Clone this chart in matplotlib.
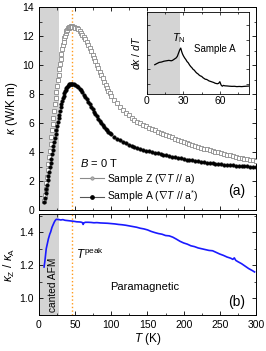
import matplotlib
matplotlib.use("Agg")
import matplotlib.pyplot as plt
from matplotlib.lines import Line2D
from matplotlib.ticker import MultipleLocator, NullFormatter, FormatStrFormatter

plt.rcParams['font.family'] = ['Liberation Sans', 'DejaVu Sans']
plt.rcParams['mathtext.fontset'] = 'custom'
plt.rcParams['mathtext.rm'] = 'Liberation Sans'
plt.rcParams['mathtext.it'] = 'Liberation Sans:italic'

# temperatures (K) of the kappa curves
temp = [7, 8, 9, 10, 11, 12, 13, 14, 15, 16, 17, 18, 19, 20, 21, 22, 23, 24, 25, 26,
        27, 28, 29, 30, 31, 32, 33, 34, 35, 36, 37, 38, 39, 40, 41, 42, 43, 44, 45, 46,
        48, 50, 52, 54, 56, 58, 60, 62, 64, 66, 68, 70, 72, 74, 76, 78, 80, 82, 84, 86,
        88, 90, 92, 94, 96, 98, 100,
        104, 108, 112, 116, 120, 124, 128, 132, 136, 140, 144, 148, 152, 156, 160, 164,
        168, 172, 176, 180, 184, 188, 192, 196, 200, 204, 208, 212, 216, 220, 224, 228,
        232, 236, 240, 244, 248, 252, 256, 260, 264, 268, 272, 276, 280, 284, 288, 292,
        296, 300]

# Sample Z, grad T // a
kappa_z = [0.65, 1.05, 1.46, 1.89, 2.31, 2.75, 3.20, 3.64, 4.10, 4.55, 5.02, 5.51, 5.93,
           6.38, 6.83, 7.28, 7.70, 8.11, 8.54, 8.94, 9.34, 9.71, 10.08, 10.43, 10.77,
           11.08, 11.35, 11.61, 11.84, 12.02, 12.18, 12.33, 12.44, 12.52, 12.58, 12.62,
           12.65, 12.66, 12.66, 12.65,
           12.62, 12.58, 12.53, 12.46, 12.36, 12.24, 12.10, 11.94, 11.77, 11.58, 11.38,
           11.17, 10.95, 10.72, 10.49, 10.25, 10.01, 9.77, 9.53, 9.30, 9.07, 8.85, 8.64,
           8.43, 8.23, 8.04, 7.86,
           7.62, 7.36, 7.12, 6.90, 6.70, 6.52, 6.36, 6.22, 6.09, 5.97, 5.86, 5.76, 5.67,
           5.58, 5.49, 5.41, 5.33, 5.25, 5.17, 5.09, 5.01, 4.93, 4.85, 4.77, 4.69, 4.62,
           4.55, 4.48, 4.42, 4.36, 4.30, 4.24, 4.18, 4.12, 4.07, 4.02, 3.97, 3.92, 3.87,
           3.82, 3.77, 3.72, 3.67, 3.62, 3.58, 3.54, 3.50, 3.46, 3.42, 3.39]

# Sample A, grad T // a*
kappa_a = [0.55, 0.85, 1.15, 1.45, 1.75, 2.05, 2.35, 2.65, 2.95, 3.25, 3.55, 3.85, 4.12,
           4.40, 4.68, 4.95, 5.22, 5.50, 5.78, 6.05, 6.32, 6.58, 6.83, 7.07, 7.30, 7.51,
           7.70, 7.88, 8.04, 8.18, 8.31, 8.42, 8.51, 8.58, 8.63, 8.67, 8.70, 8.71, 8.71,
           8.70,
           8.67, 8.62, 8.55, 8.47, 8.37, 8.25, 8.11, 7.96, 7.80, 7.66, 7.48, 7.30, 7.13,
           6.96, 6.79, 6.63, 6.47, 6.31, 6.16, 6.01, 5.87, 5.74, 5.62, 5.51, 5.41, 5.31,
           5.22,
           5.06, 4.92, 4.80, 4.69, 4.59, 4.50, 4.42, 4.35, 4.28, 4.22, 4.16, 4.10, 4.05,
           4.00, 3.95, 3.90, 3.85, 3.80, 3.76, 3.72, 3.68, 3.64, 3.60, 3.56, 3.52, 3.48,
           3.45, 3.42, 3.39, 3.36, 3.33, 3.30, 3.27, 3.24, 3.21, 3.19, 3.17, 3.15, 3.13,
           3.11, 3.09, 3.07, 3.05, 3.04, 3.03, 3.02, 3.01, 3.00, 2.99, 2.98]

# ratio kappa_Z / kappa_A
ratio_t = [7, 8, 9, 10, 11, 12, 13, 14, 15, 16, 17, 18, 19, 20, 21, 22, 23, 24, 26, 28,
           30, 33, 36, 40, 44, 48, 52, 56, 58, 60, 61, 62, 64, 68, 72, 76, 80, 85, 90,
           95, 100, 105, 110, 115, 120, 125, 130, 135, 140, 145, 150, 155, 160, 165, 170,
           175, 180, 185, 190, 195, 200, 205, 210, 215, 220, 225, 230, 235, 240, 245, 250,
           255, 260, 265, 268, 270, 272, 275, 280, 285, 290, 295, 298]
ratio = [1.19, 1.22, 1.26, 1.30, 1.32, 1.34, 1.36, 1.375, 1.39, 1.40, 1.415, 1.43, 1.44,
         1.45, 1.46, 1.468, 1.474, 1.478, 1.477, 1.476, 1.474, 1.476, 1.472, 1.470,
         1.468, 1.466, 1.463, 1.462, 1.461, 1.458, 1.447, 1.456, 1.460, 1.460, 1.459,
         1.457, 1.458, 1.456, 1.455, 1.454, 1.452, 1.450, 1.447, 1.445, 1.442, 1.438,
         1.434, 1.430, 1.424, 1.420, 1.414, 1.405, 1.398, 1.392, 1.388, 1.380, 1.378,
         1.370, 1.358, 1.345, 1.335, 1.328, 1.318, 1.313, 1.305, 1.300, 1.295, 1.290,
         1.288, 1.278, 1.268, 1.260, 1.250, 1.243, 1.236, 1.245, 1.230, 1.222, 1.210,
         1.195, 1.180, 1.168, 1.160]

# inset: d kappa / dT of sample A (arb. units)
ins_t = [6.4, 8, 10, 12, 14, 16, 18, 20, 21, 22, 23, 24, 25, 26, 27, 27.8, 28.5, 29.2,
         30, 31, 32, 33, 34, 35, 36, 37, 38, 39, 40, 41, 42, 43, 44, 45, 46, 47, 48, 49,
         50, 51, 52, 53, 54, 55, 56, 57, 58, 59, 60, 61, 62, 63, 64, 66, 68, 70, 72, 74,
         76, 78, 80, 82, 84]
ins_v = [0.357, 0.37, 0.385, 0.39, 0.40, 0.405, 0.41, 0.405, 0.41, 0.42, 0.43, 0.44,
         0.46, 0.50, 0.54, 0.56, 0.52, 0.49, 0.465, 0.44, 0.42, 0.395, 0.38, 0.355, 0.335,
         0.32, 0.30, 0.29, 0.27, 0.255, 0.245, 0.23, 0.22, 0.215, 0.20, 0.19, 0.18, 0.178,
         0.17, 0.16, 0.155, 0.15, 0.145, 0.14, 0.132, 0.128, 0.125, 0.13, 0.15, 0.11,
         0.095, 0.105, 0.10, 0.098, 0.095, 0.093, 0.094, 0.09, 0.092, 0.09, 0.093, 0.095,
         0.097]

t_neel = 27.5
t_peak = 45
grey = '#d4d4d4'
orange = '#ff9a1a'

fig = plt.figure(figsize=(2.66, 3.51), dpi=100)
ax1 = fig.add_axes([0.1466, 0.4017, 0.8158, 0.5783])
ax2 = fig.add_axes([0.1466, 0.1026, 0.8158, 0.2877])

for ax in (ax1, ax2):
    ax.axvspan(0, t_neel, color=grey, lw=0, zorder=0)
    ax.axvline(t_peak, color=orange, ls=':', lw=1.0, zorder=1)
    ax.set_xlim(0, 300)
    ax.xaxis.set_major_locator(MultipleLocator(50))
    ax.xaxis.set_minor_locator(MultipleLocator(25))
    ax.tick_params(which='both', direction='in', top=True, right=True, labelsize=7.5)
    ax.tick_params(which='major', length=3, width=0.6)
    ax.tick_params(which='minor', length=1.8, width=0.5)
    for s in ax.spines.values():
        s.set_linewidth(0.7)

# panel (a)
ax1.plot(temp, kappa_z, ls='none', marker='s', ms=2.4, mfc='white', mec='#8a8a8a',
         mew=0.6, zorder=3)
ax1.plot(temp, kappa_a, ls='none', marker='o', ms=2.6, mfc='black', mec='black',
         mew=0.3, zorder=4)
ax1.set_ylim(0, 14)
ax1.yaxis.set_major_locator(MultipleLocator(2))
ax1.yaxis.set_minor_locator(MultipleLocator(1))
ax1.xaxis.set_major_formatter(NullFormatter())
ax1.set_ylabel(r'$\kappa$ (W/K m)', fontsize=8.5, labelpad=2)

handles = [
    Line2D([], [], color='#8a8a8a', lw=0.8, marker='o', ms=2.4, mfc='#b0b0b0',
           mec='#8a8a8a', mew=0.5),
    Line2D([], [], color='#555555', lw=0.8, marker='o', ms=2.4, mfc='black', mec='black'),
]
labels = [r'Sample Z ($\nabla T$ // a)', r'Sample A ($\nabla T$ // a$^{*}$)']
leg = ax1.legend(handles, labels, title='$B$ = 0 T', loc='upper left',
                 bbox_to_anchor=(0.16, 0.29), frameon=False, fontsize=7.5,
                 title_fontsize=8, handlelength=2.3, handletextpad=0.3,
                 labelspacing=0.25, borderpad=0.1, alignment='left')
ax1.text(0.95, 0.06, '(a)', transform=ax1.transAxes, fontsize=10, ha='right', va='bottom')

# inset
axi = fig.add_axes([0.5526, 0.7322, 0.3835, 0.2336])
axi.axvspan(0, t_neel, color=grey, lw=0, zorder=0)
axi.plot(ins_t, ins_v, color='black', lw=0.9)
axi.set_xlim(0, 84)
axi.set_ylim(0, 1)
axi.set_xticks([0, 30, 60])
axi.xaxis.set_minor_locator(MultipleLocator(15))
axi.set_yticks([0.12, 0.3, 0.48, 0.66, 0.84])
axi.yaxis.set_major_formatter(NullFormatter())
axi.tick_params(which='both', direction='in', top=True, right=True, labelsize=7.5, pad=1.5)
axi.tick_params(which='major', length=2.2, width=0.5)
axi.tick_params(which='minor', length=1.5, width=0.5)
for s in axi.spines.values():
    s.set_linewidth(0.6)
axi.set_ylabel(r'$d\kappa$ / $dT$', fontsize=7.5, labelpad=2)
axi.text(26.5, 0.6, r'$T_{\rm N}$', fontsize=8, ha='center', va='bottom')
axi.text(56, 0.55, 'Sample A', fontsize=7, ha='center', va='center')

# panel (b)
ax2.plot(ratio_t, ratio, color='#1a1aff', lw=1.2)
ax2.set_ylim(0.9, 1.51)
ax2.yaxis.set_major_locator(MultipleLocator(0.2))
ax2.yaxis.set_minor_locator(MultipleLocator(0.1))
ax2.yaxis.set_major_formatter(FormatStrFormatter('%.1f'))
ax2.set_xlabel('$T$ (K)', fontsize=8.5, labelpad=1)
ax2.set_ylabel(r'$\kappa_{\rm Z}$ / $\kappa_{\rm A}$', fontsize=8.5, labelpad=2)
ax2.text(19, 1.085, 'canted AFM', rotation=90, fontsize=7.3, ha='center', va='center')
ax2.text(51, 1.264, r'$T^{\rm peak}$', fontsize=8.5, ha='left', va='center')
ax2.text(146, 1.07, 'Paramagnetic', fontsize=8, ha='center', va='center')
ax2.text(0.95, 0.06, '(b)', transform=ax2.transAxes, fontsize=10, ha='right', va='bottom')

fig.savefig('out.png', dpi=100)
